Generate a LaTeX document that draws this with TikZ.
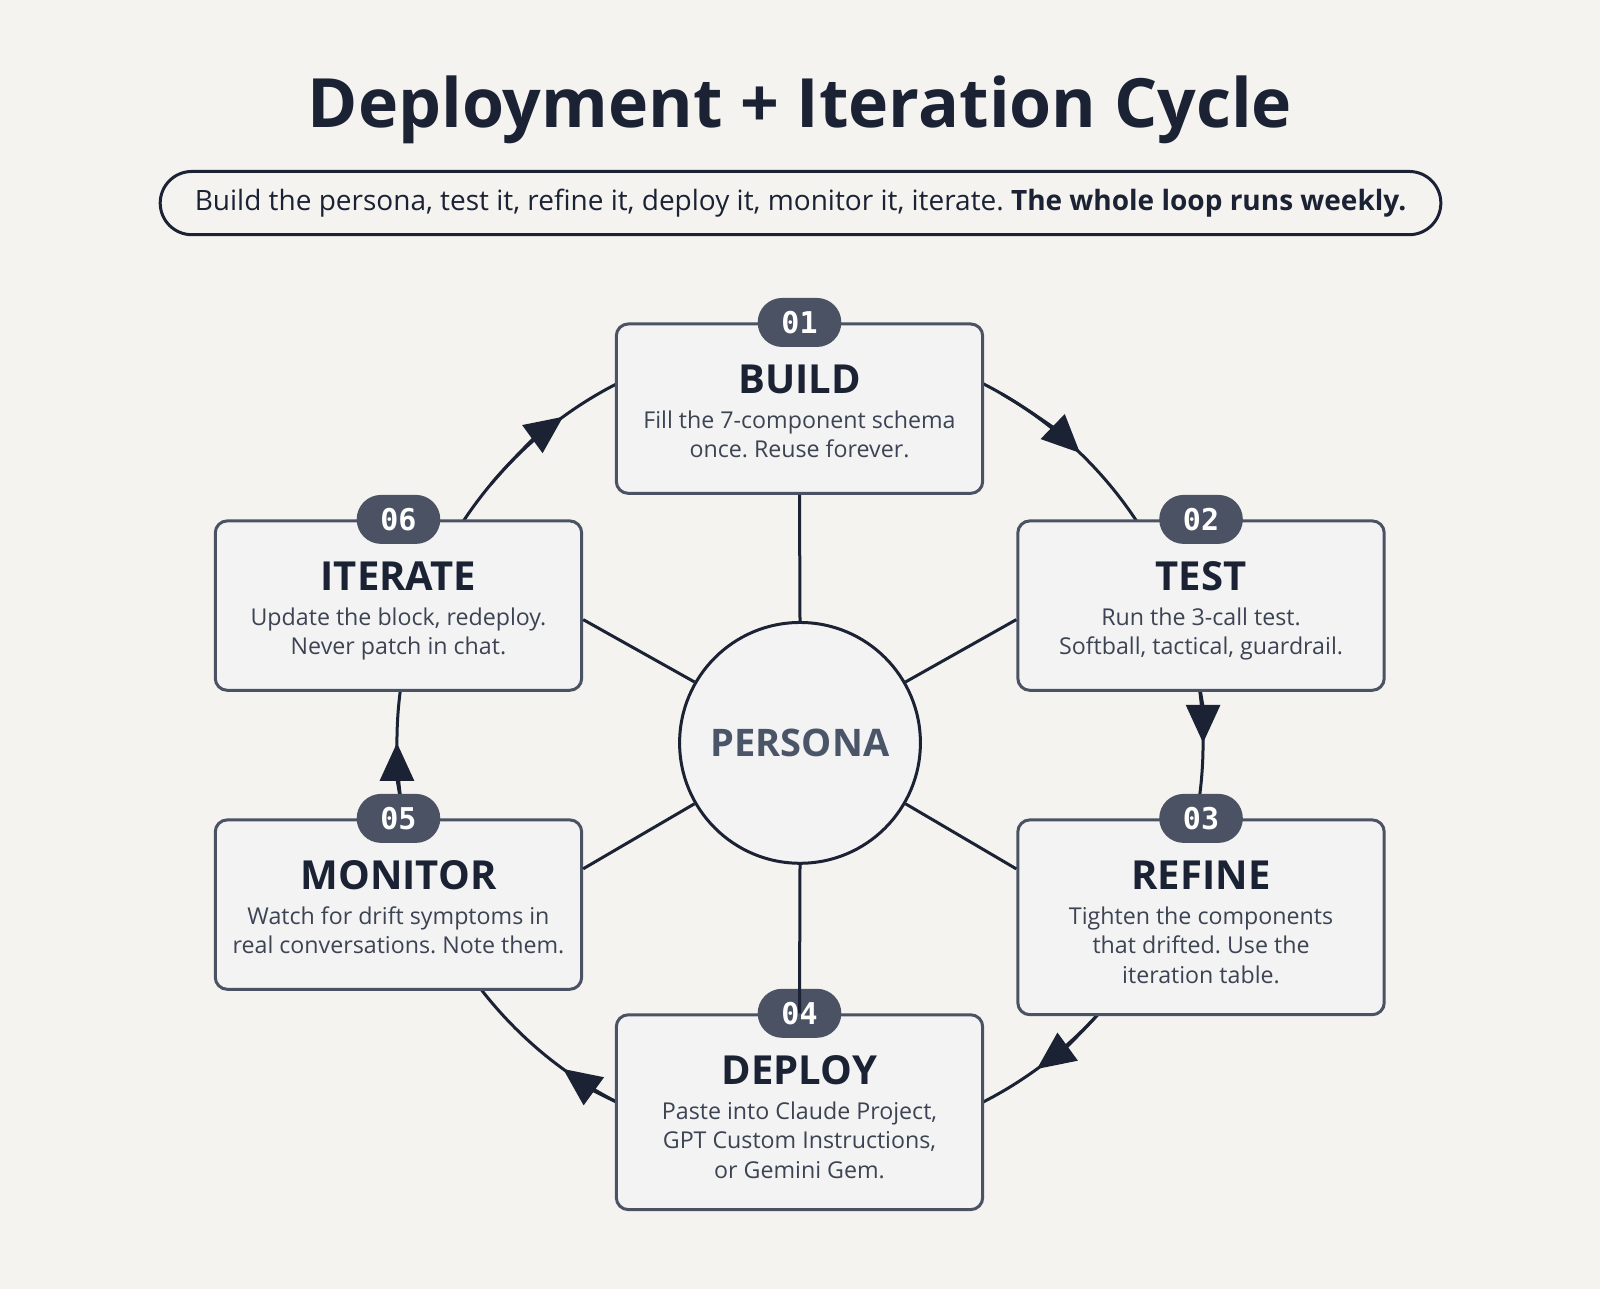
\documentclass[tikz,border=0pt]{standalone}
\usepackage{fontspec}
\setmainfont{Open Sans}
\newfontfamily\monob{DejaVu Sans Mono}
\usetikzlibrary{arrows.meta}
\definecolor{bg}{HTML}{F4F3F0}
\definecolor{navy}{HTML}{1A2233}
\definecolor{slate}{HTML}{4A5263}
\definecolor{boxfill}{HTML}{F3F3F4}
\definecolor{ptxt}{HTML}{4A5568}
\frenchspacing
\begin{document}
\frenchspacing
\begin{tikzpicture}[x=0.5102pt,y=-0.5102pt,
  box/.style={draw=slate,line width=1.5pt,fill=boxfill,rounded corners=6pt,minimum width=183.2pt,anchor=north},
  badge/.style={fill=slate,text=white,rounded corners=12.2pt,minimum width=41.8pt,minimum height=24.5pt,inner sep=0pt,font=\monob\bfseries\fontsize{15}{15}\selectfont},
  ttl/.style={text=navy,font=\bfseries\fontsize{20}{20}\selectfont},
  dsc/.style={text=navy!85,align=center,anchor=north,inner sep=0pt,font=\fontsize{11.6}{14.8}\selectfont},
  spoke/.style={draw=navy,line width=1.5pt},
  cyc/.style={draw=navy,line width=1.5pt},
  tip/.style={cyc,-{Triangle[length=19pt,width=17pt]}}]
\fill[bg] (0,0) rectangle (1568,1263);
\useasboundingbox (0,0) rectangle (1568,1263);
\node[text=navy,font=\bfseries\fontsize{34}{34}\selectfont] (title) at (784,108) {Deployment + Iteration Cycle};
\node[draw=navy,line width=1.5pt,rounded corners=15.8pt,minimum width=640.3pt,minimum height=31.6pt,text=navy,font=\fontsize{14}{14}\selectfont] (sub) at (784.5,199) {Build the persona, test it, refine it, deploy it, monitor it, iterate. \textbf{The whole loop runs weekly.}};
% cycle
\draw[cyc] (784,728) circle (395);
\foreach \a in {-46,0,54,126,180,234}{
  \draw[tip] (784,728) ++(\a-14:395) arc (\a-14:\a:395);
}
\newcommand\stage[7]{%
  \node[box,minimum height=#4] (#1) at (#2,#3) {};
  \node[badge] (#1b) at (#2,#3) {#5};
  \node[ttl] (#1t) at (#2,{#3+56}) {#6};
  \node[dsc] (#1d) at (#2,{#3+86}) {#7};
}
\node[circle,draw=navy,line width=1.5pt,fill=boxfill,minimum size=120.4pt,text=ptxt,font=\bfseries\fontsize{19}{19}\selectfont] (p) at (784,728) {PERSONA};
\stage{build}{783.5}{316}{84.7pt}{01}{BUILD}{Fill the 7-component schema\\once. Reuse forever.}
\stage{test}{1177}{509}{84.7pt}{02}{TEST}{Run the 3-call test.\\Softball, tactical, guardrail.}
\stage{refine}{1177}{802}{97.4pt}{03}{REFINE}{Tighten the components\\that drifted. Use the\\iteration table.}
\stage{deploy}{783.5}{993}{97.4pt}{04}{DEPLOY}{Paste into Claude Project,\\GPT Custom Instructions,\\or Gemini Gem.}
\stage{monitor}{390.5}{802}{84.7pt}{05}{MONITOR}{Watch for drift symptoms in\\real conversations. Note them.}
\stage{iterate}{390.5}{509}{84.7pt}{06}{ITERATE}{Update the block, redeploy.\\Never patch in chat.}
\draw[spoke] (p.north) -- (build.south);
\draw[spoke] (p.south) -- (deploy.north);
\draw[spoke] (p.30) -- ([yshift=-7pt]test.west);
\draw[spoke] (p.150) -- ([yshift=-7pt]iterate.east);
\draw[spoke] (p.210) -- ([yshift=17.9pt]monitor.east);
\draw[spoke] (p.330) -- ([yshift=24.2pt]refine.west);
\end{tikzpicture}
\end{document}
